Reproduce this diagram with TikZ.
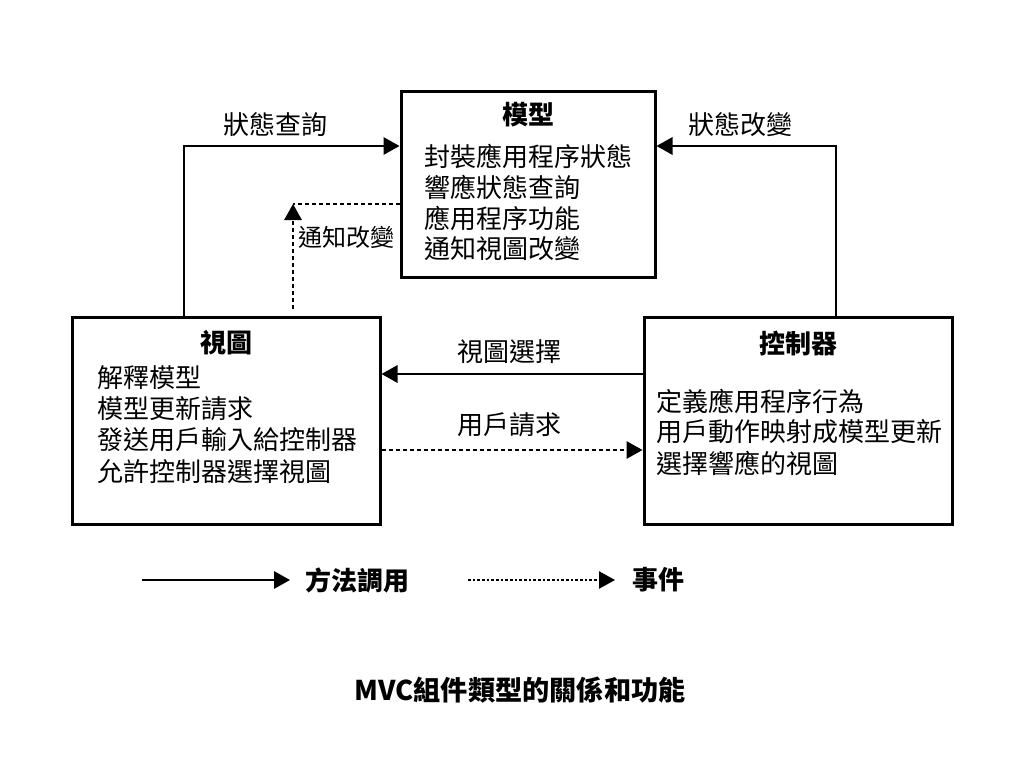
\documentclass[tikz,border=0pt]{standalone}
\usepackage{fontspec}
\setmainfont{Noto Sans CJK TC}
\usetikzlibrary{arrows.meta}

\begin{document}
\begin{tikzpicture}[
    x=0.75pt, y=-0.75pt,
    every node/.style={font=\fontsize{19.5}{23}\selectfont},
    box/.style n args={2}{draw, line width=2.25pt, minimum width=#1, minimum height=#2, inner sep=0pt},
    head/.style={font=\fontsize{19.5}{23}\selectfont\bfseries, inner sep=0pt},
    item/.style={anchor=west, inner sep=0pt},
    call/.style={line width=1.5pt, -{Triangle[length=12pt, width=13pt]}},
    event/.style={call, dash pattern=on 3pt off 2.25pt},
    plain/.style={line width=1.5pt, dash pattern=on 3pt off 2.25pt}
]
\useasboundingbox (0,0) rectangle (1024,768);

% === Boxes ===
\node[box={190.5pt}{139.5pt}] (model) at (528,184) {};
\node[box={231pt}{155.25pt}] (view) at (226,420.5) {};
\node[box={231pt}{155.25pt}] (ctrl) at (798,420.5) {};

% === Model text ===
\node[head] (mt) at (528,115) {模型};
\node[item] (m1) at (424,156) {封裝應用程序狀態};
\node[item] (m2) at (424,187) {響應狀態查詢};
\node[item] (m3) at (424,218) {應用程序功能};
\node[item] (m4) at (424,249) {通知視圖改變};

% === View text ===
\node[head] (vt) at (226,343) {視圖};
\node[item] (v1) at (97,378) {解釋模型};
\node[item] (v2) at (97,409) {模型更新請求};
\node[item] (v3) at (97,440) {發送用戶輸入給控制器};
\node[item] (v4) at (97,472) {允許控制器選擇視圖};

% === Controller text ===
\node[head] (ct) at (798,343) {控制器};
\node[item] (c1) at (656,401) {定義應用程序行為};
\node[item] (c2) at (656,432) {用戶動作映射成模型更新};
\node[item] (c3) at (656,463) {選擇響應的視圖};

% === Connectors ===
\coordinate (q) at (184,146);
\coordinate (s) at (836,146);
\coordinate (n) at (293,204);
\coordinate (nb) at (293,309);
\coordinate (sel) at (644,374);
\coordinate (req) at (380,450);

\draw[call] (view.north -| q) |- (model.west |- q);
\node[inner sep=0pt] (lq) at (275,125) {狀態查詢};

\draw[call] (ctrl.north -| s) |- (model.east |- s);
\node[inner sep=0pt] (ls) at (740,125) {狀態改變};

\draw[plain] (model.west |- n) -- (n);
\draw[event] (nb) -- (n);
\node[item, font=\fontsize{18}{21}\selectfont] (ln) at (298,237) {通知改變};

\draw[call] (ctrl.west |- sel) -- (view.east |- sel);
\node[inner sep=0pt] (lsel) at (509,352) {視圖選擇};

\draw[event] (view.east |- req) -- (ctrl.west |- req);
\node[inner sep=0pt] (lreq) at (509,425) {用戶請求};

% === Legend ===
\coordinate (a1) at (142,580);
\coordinate (a2) at (290,580);
\coordinate (b1) at (468,580);
\coordinate (b2) at (615,580);
\draw[call] (a1) -- (a2);
\node[head, anchor=west] (lcall) at (305,580) {方法調用};
\draw[line width=1pt, dash pattern=on 2pt off 1.5pt, -{Triangle[length=12pt, width=13pt]}] (b1) -- (b2);
\node[head, anchor=west] (levent) at (632,580) {事件};

\node[head, font=\fontsize{20.4}{24}\selectfont\bfseries] (title) at (520,690) {MVC組件類型的關係和功能};

\end{tikzpicture}
\end{document}
